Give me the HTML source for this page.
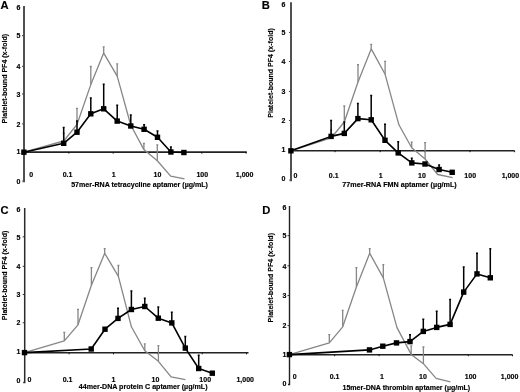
<!DOCTYPE html><html><head><meta charset="utf-8"><style>html,body{margin:0;padding:0;background:#fff;}svg{display:block;will-change:transform;}text{font-family:"Liberation Sans", sans-serif;font-weight:bold;stroke:#000;stroke-width:0.15px;}</style></head><body>
<svg width="520" height="392" viewBox="0 0 520 392">
<rect width="520" height="392" fill="#fff"/>
<g><text x="0.6" y="9.2" font-size="11.2">A</text><text x="0" y="0" font-size="7" text-anchor="middle" textLength="89.5" lengthAdjust="spacingAndGlyphs" transform="translate(4.2 78.65) rotate(-90)" dy="2.5">Platelet-bound PF4 (x-fold)</text><text x="20.3" y="183.7" font-size="7" text-anchor="end">0</text><text x="20.3" y="154.25" font-size="7" text-anchor="end">1</text><text x="20.3" y="126.6" font-size="7" text-anchor="end">2</text><line x1="22" y1="123.9" x2="24" y2="123.9" stroke="#333" stroke-width="1"/><text x="20.3" y="96.7" font-size="7" text-anchor="end">3</text><line x1="22" y1="94" x2="24" y2="94" stroke="#333" stroke-width="1"/><text x="20.3" y="69" font-size="7" text-anchor="end">4</text><line x1="22" y1="66.3" x2="24" y2="66.3" stroke="#333" stroke-width="1"/><text x="20.3" y="38.35" font-size="7" text-anchor="end">5</text><line x1="22" y1="35.65" x2="24" y2="35.65" stroke="#333" stroke-width="1"/><text x="20.3" y="9.9" font-size="7" text-anchor="end">6</text><text x="31.2" y="176.8" font-size="7" text-anchor="middle">0</text><text x="67.5" y="176.8" font-size="7" text-anchor="middle">0.1</text><text x="113.8" y="176.8" font-size="7" text-anchor="middle">1</text><text x="157.5" y="176.8" font-size="7" text-anchor="middle">10</text><text x="202.3" y="176.8" font-size="7" text-anchor="middle">100</text><text x="244.6" y="176.8" font-size="7" text-anchor="middle">1,000</text><text x="71.2" y="186.9" font-size="7" textLength="136.8" lengthAdjust="spacingAndGlyphs">57mer-RNA tetracycline aptamer (µg/mL)</text><line x1="24" y1="152.15" x2="246.8" y2="152.15" stroke="#222" stroke-width="1.6"/><line x1="68.9" y1="152.15" x2="68.9" y2="153.65" stroke="#111" stroke-width="1"/><line x1="113.2" y1="152.15" x2="113.2" y2="153.65" stroke="#111" stroke-width="1"/><line x1="157.5" y1="152.15" x2="157.5" y2="153.65" stroke="#111" stroke-width="1"/><line x1="201.8" y1="152.15" x2="201.8" y2="153.65" stroke="#111" stroke-width="1"/><line x1="246.1" y1="152.15" x2="246.1" y2="153.65" stroke="#111" stroke-width="1"/><path d="M24 6.1 V181.3 h-1.5" fill="none" stroke="#505050" stroke-width="2"/><path d="M63.7 141 V133 M62.7 133 h2" fill="none" stroke="#868686" stroke-width="1.3"/><path d="M77 124.5 V108.3 M76 108.3 h2" fill="none" stroke="#868686" stroke-width="1.3"/><path d="M90.8 84.6 V66.5 M89.8 66.5 h2" fill="none" stroke="#868686" stroke-width="1.3"/><path d="M103.7 53.1 V46.9 M102.7 46.9 h2" fill="none" stroke="#868686" stroke-width="1.3"/><path d="M117.2 76.2 V63.8 M116.2 63.8 h2" fill="none" stroke="#868686" stroke-width="1.3"/><path d="M143.9 149.6 V143.5 M142.9 143.5 h2" fill="none" stroke="#868686" stroke-width="1.3"/><path d="M157.3 160.7 V144.8 M156.3 144.8 h2" fill="none" stroke="#868686" stroke-width="1.3"/><polyline points="23.9,152.2 63.7,141 77,124.5 90.8,84.6 103.7,53.1 117.2,76.2 130.7,125 143.9,149.6 157.3,160.7 170.7,176.1 184.5,178.9" fill="none" stroke="#868686" stroke-width="1.3" stroke-linejoin="round"/><path d="M63.7 143.3 V127.5 M62.7 127.5 h2" fill="none" stroke="#000" stroke-width="1.5"/><path d="M77 132.2 V121 M76 121 h2" fill="none" stroke="#000" stroke-width="1.5"/><path d="M90.8 113.8 V98 M89.8 98 h2" fill="none" stroke="#000" stroke-width="1.5"/><path d="M103.7 108.8 V84.2 M102.7 84.2 h2" fill="none" stroke="#000" stroke-width="1.5"/><path d="M117.2 121.1 V105.2 M116.2 105.2 h2" fill="none" stroke="#000" stroke-width="1.5"/><path d="M130.8 126 V115 M129.8 115 h2" fill="none" stroke="#000" stroke-width="1.5"/><path d="M144.1 129.3 V124.7 M143.1 124.7 h2" fill="none" stroke="#000" stroke-width="1.5"/><path d="M157.5 137.3 V131 M156.5 131 h2" fill="none" stroke="#000" stroke-width="1.5"/><path d="M170.9 152 V147 M169.9 147 h2" fill="none" stroke="#000" stroke-width="1.5"/><polyline points="23.9,152.2 63.7,143.3 77,132.2 90.8,113.8 103.7,108.8 117.2,121.1 130.8,126 144.1,129.3 157.5,137.3 170.9,152 183.9,152.5" fill="none" stroke="#000" stroke-width="1.6" stroke-linejoin="round"/><rect x="21.2" y="149.5" width="5.4" height="5.4" fill="#000"/><rect x="61" y="140.6" width="5.4" height="5.4" fill="#000"/><rect x="74.3" y="129.5" width="5.4" height="5.4" fill="#000"/><rect x="88.1" y="111.1" width="5.4" height="5.4" fill="#000"/><rect x="101" y="106.1" width="5.4" height="5.4" fill="#000"/><rect x="114.5" y="118.4" width="5.4" height="5.4" fill="#000"/><rect x="128.1" y="123.3" width="5.4" height="5.4" fill="#000"/><rect x="141.4" y="126.6" width="5.4" height="5.4" fill="#000"/><rect x="154.8" y="134.6" width="5.4" height="5.4" fill="#000"/><rect x="168.2" y="149.3" width="5.4" height="5.4" fill="#000"/><rect x="181.2" y="149.8" width="5.4" height="5.4" fill="#000"/></g>
<g><text x="261.8" y="9.2" font-size="11.2">B</text><text x="0" y="0" font-size="7" text-anchor="middle" textLength="89.5" lengthAdjust="spacingAndGlyphs" transform="translate(270.35 72.95) rotate(-90)" dy="2.5">Platelet-bound PF4 (x-fold)</text><text x="285.5" y="181.3" font-size="7" text-anchor="end">0</text><text x="285.5" y="152" font-size="7" text-anchor="end">1</text><text x="285.5" y="123.15" font-size="7" text-anchor="end">2</text><line x1="289" y1="120.45" x2="291" y2="120.45" stroke="#333" stroke-width="1"/><text x="285.5" y="94.25" font-size="7" text-anchor="end">3</text><line x1="289" y1="91.55" x2="291" y2="91.55" stroke="#333" stroke-width="1"/><text x="285.5" y="64.2" font-size="7" text-anchor="end">4</text><line x1="289" y1="61.5" x2="291" y2="61.5" stroke="#333" stroke-width="1"/><text x="285.5" y="35.1" font-size="7" text-anchor="end">5</text><line x1="289" y1="32.4" x2="291" y2="32.4" stroke="#333" stroke-width="1"/><text x="285.5" y="6.6" font-size="7" text-anchor="end">6</text><text x="295.4" y="178.2" font-size="7" text-anchor="middle">0</text><text x="333.7" y="178.2" font-size="7" text-anchor="middle">0.1</text><text x="380.6" y="178.2" font-size="7" text-anchor="middle">1</text><text x="422" y="178.2" font-size="7" text-anchor="middle">10</text><text x="470.2" y="178.2" font-size="7" text-anchor="middle">100</text><text x="510.4" y="178.2" font-size="7" text-anchor="middle">1,000</text><text x="342.3" y="186.8" font-size="7" textLength="114.4" lengthAdjust="spacingAndGlyphs">77mer-RNA FMN aptamer (µg/mL)</text><line x1="291" y1="150.7" x2="514.6" y2="150.7" stroke="#222" stroke-width="1.6"/><line x1="335" y1="150.7" x2="335" y2="152.2" stroke="#111" stroke-width="1"/><line x1="380.2" y1="150.7" x2="380.2" y2="152.2" stroke="#111" stroke-width="1"/><line x1="425" y1="150.7" x2="425" y2="152.2" stroke="#111" stroke-width="1"/><line x1="470" y1="150.7" x2="470" y2="152.2" stroke="#111" stroke-width="1"/><line x1="514.6" y1="150.7" x2="514.6" y2="152.2" stroke="#111" stroke-width="1"/><path d="M291 2.3 V180.2 h-1.5" fill="none" stroke="#505050" stroke-width="2"/><path d="M331.1 138 V130 M330.1 130 h2" fill="none" stroke="#868686" stroke-width="1.3"/><path d="M344.3 122 V106 M343.3 106 h2" fill="none" stroke="#868686" stroke-width="1.3"/><path d="M358 82 V64.6 M357 64.6 h2" fill="none" stroke="#868686" stroke-width="1.3"/><path d="M371.2 48.9 V44.3 M370.2 44.3 h2" fill="none" stroke="#868686" stroke-width="1.3"/><path d="M385.1 74.3 V61.3 M384.1 61.3 h2" fill="none" stroke="#868686" stroke-width="1.3"/><path d="M411.7 147.8 V142.1 M410.7 142.1 h2" fill="none" stroke="#868686" stroke-width="1.3"/><path d="M425.1 159 V142.7 M424.1 142.7 h2" fill="none" stroke="#868686" stroke-width="1.3"/><polyline points="290.9,150.8 331.1,138 344.3,122 358,82 371.2,48.9 385.1,74.3 398.9,124.8 411.7,147.8 425.1,159 437.7,174.5 452.6,177.6" fill="none" stroke="#868686" stroke-width="1.3" stroke-linejoin="round"/><path d="M331.1 136.4 V120.4 M330.1 120.4 h2" fill="none" stroke="#000" stroke-width="1.5"/><path d="M344.3 133.4 V122 M343.3 122 h2" fill="none" stroke="#000" stroke-width="1.5"/><path d="M357.9 118.6 V103.4 M356.9 103.4 h2" fill="none" stroke="#000" stroke-width="1.5"/><path d="M371.2 119.8 V95.4 M370.2 95.4 h2" fill="none" stroke="#000" stroke-width="1.5"/><path d="M385 140.3 V124.3 M384 124.3 h2" fill="none" stroke="#000" stroke-width="1.5"/><path d="M398.2 152.9 V141.7 M397.2 141.7 h2" fill="none" stroke="#000" stroke-width="1.5"/><path d="M411.8 162.9 V158.2 M410.8 158.2 h2" fill="none" stroke="#000" stroke-width="1.5"/><path d="M439.1 169.5 V164.9 M438.1 164.9 h2" fill="none" stroke="#000" stroke-width="1.5"/><polyline points="290.9,150.8 331.1,136.4 344.3,133.4 357.9,118.6 371.2,119.8 385,140.3 398.2,152.9 411.8,162.9 425,164 439.1,169.5 452.2,172.3" fill="none" stroke="#000" stroke-width="1.6" stroke-linejoin="round"/><rect x="288.2" y="148.1" width="5.4" height="5.4" fill="#000"/><rect x="328.4" y="133.7" width="5.4" height="5.4" fill="#000"/><rect x="341.6" y="130.7" width="5.4" height="5.4" fill="#000"/><rect x="355.2" y="115.9" width="5.4" height="5.4" fill="#000"/><rect x="368.5" y="117.1" width="5.4" height="5.4" fill="#000"/><rect x="382.3" y="137.6" width="5.4" height="5.4" fill="#000"/><rect x="395.5" y="150.2" width="5.4" height="5.4" fill="#000"/><rect x="409.1" y="160.2" width="5.4" height="5.4" fill="#000"/><rect x="422.3" y="161.3" width="5.4" height="5.4" fill="#000"/><rect x="436.4" y="166.8" width="5.4" height="5.4" fill="#000"/><rect x="449.5" y="169.6" width="5.4" height="5.4" fill="#000"/></g>
<g><text x="0.6" y="214.1" font-size="11.2">C</text><text x="0" y="0" font-size="7" text-anchor="middle" textLength="89.5" lengthAdjust="spacingAndGlyphs" transform="translate(4.2 275.45) rotate(-90)" dy="2.5">Platelet-bound PF4 (x-fold)</text><text x="20.5" y="383" font-size="7" text-anchor="end">0</text><text x="20.5" y="353.8" font-size="7" text-anchor="end">1</text><text x="20.5" y="325.45" font-size="7" text-anchor="end">2</text><line x1="22.7" y1="322.75" x2="24.7" y2="322.75" stroke="#333" stroke-width="1"/><text x="20.5" y="297.2" font-size="7" text-anchor="end">3</text><line x1="22.7" y1="294.5" x2="24.7" y2="294.5" stroke="#333" stroke-width="1"/><text x="20.5" y="269" font-size="7" text-anchor="end">4</text><line x1="22.7" y1="266.3" x2="24.7" y2="266.3" stroke="#333" stroke-width="1"/><text x="20.5" y="239.5" font-size="7" text-anchor="end">5</text><line x1="22.7" y1="236.8" x2="24.7" y2="236.8" stroke="#333" stroke-width="1"/><text x="20.5" y="211.6" font-size="7" text-anchor="end">6</text><text x="29.4" y="381.6" font-size="7" text-anchor="middle">0</text><text x="67.5" y="381.6" font-size="7" text-anchor="middle">0.1</text><text x="113.5" y="381.6" font-size="7" text-anchor="middle">1</text><text x="155.4" y="381.6" font-size="7" text-anchor="middle">10</text><text x="205.2" y="381.6" font-size="7" text-anchor="middle">100</text><text x="245.2" y="381.6" font-size="7" text-anchor="middle">1,000</text><text x="78.75" y="389.2" font-size="7" textLength="128.75" lengthAdjust="spacingAndGlyphs">44mer-DNA protein C aptamer (µg/mL)</text><line x1="24.7" y1="352.8" x2="248.5" y2="352.8" stroke="#222" stroke-width="1.6"/><line x1="69.1" y1="352.8" x2="69.1" y2="354.3" stroke="#111" stroke-width="1"/><line x1="113.5" y1="352.8" x2="113.5" y2="354.3" stroke="#111" stroke-width="1"/><line x1="158" y1="352.8" x2="158" y2="354.3" stroke="#111" stroke-width="1"/><line x1="202.2" y1="352.8" x2="202.2" y2="354.3" stroke="#111" stroke-width="1"/><line x1="246.5" y1="352.8" x2="246.5" y2="354.3" stroke="#111" stroke-width="1"/><path d="M24.7 207.9 V382.5 h-1.5" fill="none" stroke="#2a2a2a" stroke-width="1.5"/><path d="M64.3 340.9 V332.3 M63.3 332.3 h2" fill="none" stroke="#868686" stroke-width="1.3"/><path d="M78 324.8 V309.3 M77 309.3 h2" fill="none" stroke="#868686" stroke-width="1.3"/><path d="M91.4 285.3 V267.6 M90.4 267.6 h2" fill="none" stroke="#868686" stroke-width="1.3"/><path d="M104.7 253.3 V248.6 M103.7 248.6 h2" fill="none" stroke="#868686" stroke-width="1.3"/><path d="M118.4 276.4 V265.5 M117.4 265.5 h2" fill="none" stroke="#868686" stroke-width="1.3"/><path d="M144.8 350.8 V343.9 M143.8 343.9 h2" fill="none" stroke="#868686" stroke-width="1.3"/><path d="M158.4 361.3 V345.7 M157.4 345.7 h2" fill="none" stroke="#868686" stroke-width="1.3"/><polyline points="24.5,352.6 64.3,340.9 78,324.8 91.4,285.3 104.7,253.3 118.4,276.4 131.4,326.8 144.8,350.8 158.4,361.3 171.1,376.9 185.4,379.6" fill="none" stroke="#868686" stroke-width="1.3" stroke-linejoin="round"/><path d="M118 318.4 V308.2 M117 308.2 h2" fill="none" stroke="#000" stroke-width="1.5"/><path d="M131.4 309.5 V291.1 M130.4 291.1 h2" fill="none" stroke="#000" stroke-width="1.5"/><path d="M144.8 306.5 V298.2 M143.8 298.2 h2" fill="none" stroke="#000" stroke-width="1.5"/><path d="M158.3 318.2 V307 M157.3 307 h2" fill="none" stroke="#000" stroke-width="1.5"/><path d="M171.8 322.9 V312.2 M170.8 312.2 h2" fill="none" stroke="#000" stroke-width="1.5"/><path d="M185.3 348.1 V336.4 M184.3 336.4 h2" fill="none" stroke="#000" stroke-width="1.5"/><path d="M198.7 368.5 V355.2 M197.7 355.2 h2" fill="none" stroke="#000" stroke-width="1.5"/><polyline points="24.5,352.6 91.2,349 105,329.2 118,318.4 131.4,309.5 144.8,306.5 158.3,318.2 171.8,322.9 185.3,348.1 198.7,368.5 212.3,373.2" fill="none" stroke="#000" stroke-width="1.6" stroke-linejoin="round"/><rect x="21.8" y="349.9" width="5.4" height="5.4" fill="#000"/><rect x="88.5" y="346.3" width="5.4" height="5.4" fill="#000"/><rect x="102.3" y="326.5" width="5.4" height="5.4" fill="#000"/><rect x="115.3" y="315.7" width="5.4" height="5.4" fill="#000"/><rect x="128.7" y="306.8" width="5.4" height="5.4" fill="#000"/><rect x="142.1" y="303.8" width="5.4" height="5.4" fill="#000"/><rect x="155.6" y="315.5" width="5.4" height="5.4" fill="#000"/><rect x="169.1" y="320.2" width="5.4" height="5.4" fill="#000"/><rect x="182.6" y="345.4" width="5.4" height="5.4" fill="#000"/><rect x="196" y="365.8" width="5.4" height="5.4" fill="#000"/><rect x="209.6" y="370.5" width="5.4" height="5.4" fill="#000"/></g>
<g><text x="262.3" y="214.1" font-size="11.2">D</text><text x="0" y="0" font-size="7" text-anchor="middle" textLength="89.5" lengthAdjust="spacingAndGlyphs" transform="translate(270 277.75) rotate(-90)" dy="2.5">Platelet-bound PF4 (x-fold)</text><text x="286.3" y="385.5" font-size="7" text-anchor="end">0</text><text x="286.3" y="356.9" font-size="7" text-anchor="end">1</text><text x="286.3" y="328.3" font-size="7" text-anchor="end">2</text><line x1="287.5" y1="325.6" x2="289.5" y2="325.6" stroke="#333" stroke-width="1"/><text x="286.3" y="298.25" font-size="7" text-anchor="end">3</text><line x1="287.5" y1="295.55" x2="289.5" y2="295.55" stroke="#333" stroke-width="1"/><text x="286.3" y="268.5" font-size="7" text-anchor="end">4</text><line x1="287.5" y1="265.8" x2="289.5" y2="265.8" stroke="#333" stroke-width="1"/><text x="286.3" y="238.4" font-size="7" text-anchor="end">5</text><line x1="287.5" y1="235.7" x2="289.5" y2="235.7" stroke="#333" stroke-width="1"/><text x="286.3" y="210.4" font-size="7" text-anchor="end">6</text><text x="294.8" y="378.6" font-size="7" text-anchor="middle">0</text><text x="334.6" y="378.6" font-size="7" text-anchor="middle">0.1</text><text x="381.9" y="378.6" font-size="7" text-anchor="middle">1</text><text x="423" y="378.6" font-size="7" text-anchor="middle">10</text><text x="470.6" y="378.6" font-size="7" text-anchor="middle">100</text><text x="509.6" y="378.6" font-size="7" text-anchor="middle">1,000</text><text x="342.5" y="389.8" font-size="7" textLength="127.7" lengthAdjust="spacingAndGlyphs">15mer-DNA thrombin aptamer (µg/mL)</text><line x1="289.5" y1="354.7" x2="512.5" y2="354.7" stroke="#222" stroke-width="1.6"/><line x1="334.6" y1="354.7" x2="334.6" y2="356.2" stroke="#111" stroke-width="1"/><line x1="379.1" y1="354.7" x2="379.1" y2="356.2" stroke="#111" stroke-width="1"/><line x1="423.6" y1="354.7" x2="423.6" y2="356.2" stroke="#111" stroke-width="1"/><line x1="468.3" y1="354.7" x2="468.3" y2="356.2" stroke="#111" stroke-width="1"/><line x1="512.5" y1="354.7" x2="512.5" y2="356.2" stroke="#111" stroke-width="1"/><path d="M289.5 205.9 V384.5 h-1.5" fill="none" stroke="#222" stroke-width="1.4"/><path d="M329.3 342.8 V334.6 M328.3 334.6 h2" fill="none" stroke="#868686" stroke-width="1.3"/><path d="M342.7 326.8 V310.4 M341.7 310.4 h2" fill="none" stroke="#868686" stroke-width="1.3"/><path d="M356.4 287 V267.6 M355.4 267.6 h2" fill="none" stroke="#868686" stroke-width="1.3"/><path d="M369.7 253.3 V248.6 M368.7 248.6 h2" fill="none" stroke="#868686" stroke-width="1.3"/><path d="M383.3 277.9 V264.6 M382.3 264.6 h2" fill="none" stroke="#868686" stroke-width="1.3"/><path d="M411.2 354.4 V345.8 M410.2 345.8 h2" fill="none" stroke="#868686" stroke-width="1.3"/><path d="M423.4 363.7 V347 M422.4 347 h2" fill="none" stroke="#868686" stroke-width="1.3"/><polyline points="289.4,354.6 329.3,342.8 342.7,326.8 356.4,287 369.7,253.3 383.3,277.9 397,327.6 411.2,354.4 423.4,363.7 436.1,378.4 450.4,381.8" fill="none" stroke="#868686" stroke-width="1.3" stroke-linejoin="round"/><path d="M410 341.6 V334.7 M409 334.7 h2" fill="none" stroke="#000" stroke-width="1.5"/><path d="M423.3 331.4 V319.2 M422.3 319.2 h2" fill="none" stroke="#000" stroke-width="1.5"/><path d="M436.7 327.4 V311.3 M435.7 311.3 h2" fill="none" stroke="#000" stroke-width="1.5"/><path d="M450.1 324.4 V299.6 M449.1 299.6 h2" fill="none" stroke="#000" stroke-width="1.5"/><path d="M463.7 292.1 V267.1 M462.7 267.1 h2" fill="none" stroke="#000" stroke-width="1.5"/><path d="M477 273.9 V253.3 M476 253.3 h2" fill="none" stroke="#000" stroke-width="1.5"/><path d="M490.3 277.8 V248.7 M489.3 248.7 h2" fill="none" stroke="#000" stroke-width="1.5"/><polyline points="289.4,354.6 369.5,349.9 382.8,346.2 396.5,342.9 410,341.6 423.3,331.4 436.7,327.4 450.1,324.4 463.7,292.1 477,273.9 490.3,277.8" fill="none" stroke="#000" stroke-width="1.6" stroke-linejoin="round"/><rect x="286.7" y="351.9" width="5.4" height="5.4" fill="#000"/><rect x="366.8" y="347.2" width="5.4" height="5.4" fill="#000"/><rect x="380.1" y="343.5" width="5.4" height="5.4" fill="#000"/><rect x="393.8" y="340.2" width="5.4" height="5.4" fill="#000"/><rect x="407.3" y="338.9" width="5.4" height="5.4" fill="#000"/><rect x="420.6" y="328.7" width="5.4" height="5.4" fill="#000"/><rect x="434" y="324.7" width="5.4" height="5.4" fill="#000"/><rect x="447.4" y="321.7" width="5.4" height="5.4" fill="#000"/><rect x="461" y="289.4" width="5.4" height="5.4" fill="#000"/><rect x="474.3" y="271.2" width="5.4" height="5.4" fill="#000"/><rect x="487.6" y="275.1" width="5.4" height="5.4" fill="#000"/></g>
</svg></body></html>
